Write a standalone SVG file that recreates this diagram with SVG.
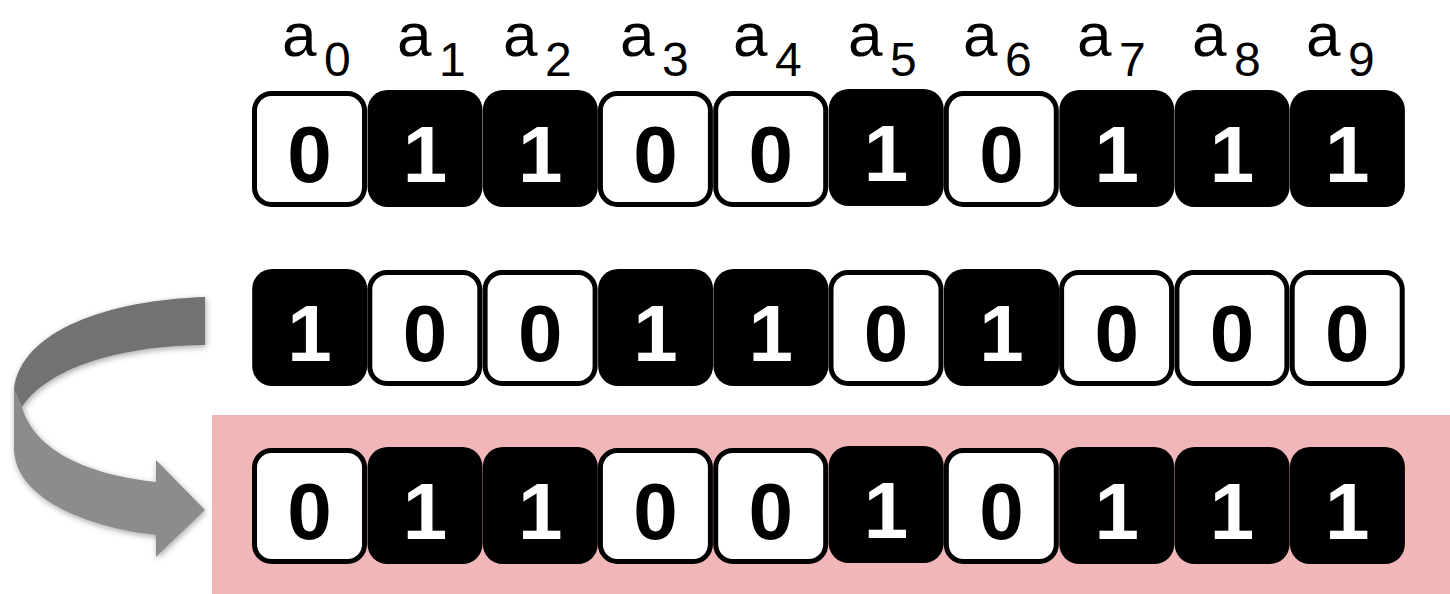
<svg xmlns="http://www.w3.org/2000/svg" width="1450" height="594" viewBox="0 0 1450 594">
<style>
.w{fill:#fff;stroke:#000;stroke-width:5}
.b{fill:#000}
.dw{fill:#fff}
.dk{fill:#000}
</style>
<defs>
<filter id="sh" x="-20%" y="-20%" width="140%" height="140%">
<feGaussianBlur in="SourceAlpha" stdDeviation="3"/>
<feOffset dx="1" dy="2" result="o"/>
<feComponentTransfer><feFuncA type="linear" slope="0.35"/></feComponentTransfer>
<feMerge><feMergeNode/><feMergeNode in="SourceGraphic"/></feMerge>
</filter>
</defs>
<rect id="highlight" x="212" y="415" width="1238" height="179" fill="#F1B7B8"/>
<g id="connectors" filter="url(#sh)">
<path d="M14 390 L14 450 C16 500 90 528 156 535 L156 557 L205 510 L156 460 L156 482 C90 475 35 452 22 407 Z" fill="#8c8c8c"/>
<path d="M205 297 C110 300 20 330 14 390 L22 407 C45 372 110 346 205 345 Z" fill="#727272"/>
</g>
<g id="labels" font-family="'Liberation Sans', Arial, sans-serif" font-size="62" fill="#000">
<text id="a0" x="282" y="56">a<tspan font-size="48" x="324" y="76">0</tspan></text>
<text id="a1" x="397" y="56">a<tspan font-size="48" x="439" y="76">1</tspan></text>
<text id="a2" x="503" y="56">a<tspan font-size="48" x="545" y="76">2</tspan></text>
<text id="a3" x="620" y="56">a<tspan font-size="48" x="662" y="76">3</tspan></text>
<text id="a4" x="733" y="56">a<tspan font-size="48" x="775" y="76">4</tspan></text>
<text id="a5" x="848" y="56">a<tspan font-size="48" x="890" y="76">5</tspan></text>
<text id="a6" x="963" y="56">a<tspan font-size="48" x="1005" y="76">6</tspan></text>
<text id="a7" x="1077" y="56">a<tspan font-size="48" x="1119" y="76">7</tspan></text>
<text id="a8" x="1192" y="56">a<tspan font-size="48" x="1234" y="76">8</tspan></text>
<text id="a9" x="1306" y="56">a<tspan font-size="48" x="1348" y="76">9</tspan></text>
</g>
<g id="cells" font-family="'Liberation Sans', Arial, sans-serif" font-weight="bold" font-size="80" text-anchor="middle">
<g id="row1">
<g id="r1c0"><rect class="w" x="254.5" y="93.5" width="110" height="111" rx="17"/><text class="dk" x="309.5" y="182">0</text></g>
<g id="r1c1"><rect class="b" x="367.5" y="90" width="115" height="117" rx="20"/><text class="dw" x="424.9" y="182">1</text></g>
<g id="r1c2"><rect class="b" x="482.8" y="90" width="115" height="117" rx="20"/><text class="dw" x="540.2" y="182">1</text></g>
<g id="r1c3"><rect class="w" x="600.4" y="93.5" width="110" height="111" rx="17"/><text class="dk" x="655.5" y="182">0</text></g>
<g id="r1c4"><rect class="w" x="715.7" y="93.5" width="110" height="111" rx="17"/><text class="dk" x="770.8" y="182">0</text></g>
<g id="r1c5"><rect class="b" x="828.7" y="89" width="115" height="117" rx="20"/><text class="dw" x="886.1" y="181">1</text></g>
<g id="r1c6"><rect class="w" x="946.3" y="93.5" width="110" height="111" rx="17"/><text class="dk" x="1001.4" y="182">0</text></g>
<g id="r1c7"><rect class="b" x="1059.3" y="90" width="115" height="117" rx="20"/><text class="dw" x="1116.7" y="182">1</text></g>
<g id="r1c8"><rect class="b" x="1174.6" y="90" width="115" height="117" rx="20"/><text class="dw" x="1232" y="182">1</text></g>
<g id="r1c9"><rect class="b" x="1289.9" y="90" width="115" height="117" rx="20"/><text class="dw" x="1347.3" y="182">1</text></g>
</g>
<g id="row2">
<g id="r2c0"><rect class="b" x="252.2" y="269" width="115" height="117" rx="20"/><text class="dw" x="309.6" y="361">1</text></g>
<g id="r2c1"><rect class="w" x="369.8" y="272.5" width="110" height="111" rx="17"/><text class="dk" x="424.9" y="361">0</text></g>
<g id="r2c2"><rect class="w" x="485.1" y="272.5" width="110" height="111" rx="17"/><text class="dk" x="540.2" y="361">0</text></g>
<g id="r2c3"><rect class="b" x="598.1" y="269" width="115" height="117" rx="20"/><text class="dw" x="655.5" y="361">1</text></g>
<g id="r2c4"><rect class="b" x="713.4" y="269" width="115" height="117" rx="20"/><text class="dw" x="770.8" y="361">1</text></g>
<g id="r2c5"><rect class="w" x="831" y="272.5" width="110" height="111" rx="17"/><text class="dk" x="886.1" y="361">0</text></g>
<g id="r2c6"><rect class="b" x="944" y="269" width="115" height="117" rx="20"/><text class="dw" x="1001.4" y="361">1</text></g>
<g id="r2c7"><rect class="w" x="1061.6" y="272.5" width="110" height="111" rx="17"/><text class="dk" x="1116.7" y="361">0</text></g>
<g id="r2c8"><rect class="w" x="1176.9" y="272.5" width="110" height="111" rx="17"/><text class="dk" x="1232" y="361">0</text></g>
<g id="r2c9"><rect class="w" x="1292.2" y="272.5" width="110" height="111" rx="17"/><text class="dk" x="1347.3" y="361">0</text></g>
</g>
<g id="row3">
<g id="r3c0"><rect class="w" x="254.5" y="450.5" width="110" height="111" rx="17"/><text class="dk" x="309.5" y="539">0</text></g>
<g id="r3c1"><rect class="b" x="367.5" y="447" width="115" height="117" rx="20"/><text class="dw" x="424.9" y="539">1</text></g>
<g id="r3c2"><rect class="b" x="482.8" y="447" width="115" height="117" rx="20"/><text class="dw" x="540.2" y="539">1</text></g>
<g id="r3c3"><rect class="w" x="600.4" y="450.5" width="110" height="111" rx="17"/><text class="dk" x="655.5" y="539">0</text></g>
<g id="r3c4"><rect class="w" x="715.7" y="450.5" width="110" height="111" rx="17"/><text class="dk" x="770.8" y="539">0</text></g>
<g id="r3c5"><rect class="b" x="828.7" y="446" width="115" height="117" rx="20"/><text class="dw" x="886.1" y="538">1</text></g>
<g id="r3c6"><rect class="w" x="946.3" y="450.5" width="110" height="111" rx="17"/><text class="dk" x="1001.4" y="539">0</text></g>
<g id="r3c7"><rect class="b" x="1059.3" y="447" width="115" height="117" rx="20"/><text class="dw" x="1116.7" y="539">1</text></g>
<g id="r3c8"><rect class="b" x="1174.6" y="447" width="115" height="117" rx="20"/><text class="dw" x="1232" y="539">1</text></g>
<g id="r3c9"><rect class="b" x="1289.9" y="447" width="115" height="117" rx="20"/><text class="dw" x="1347.3" y="539">1</text></g>
</g>
</g>
</svg>
